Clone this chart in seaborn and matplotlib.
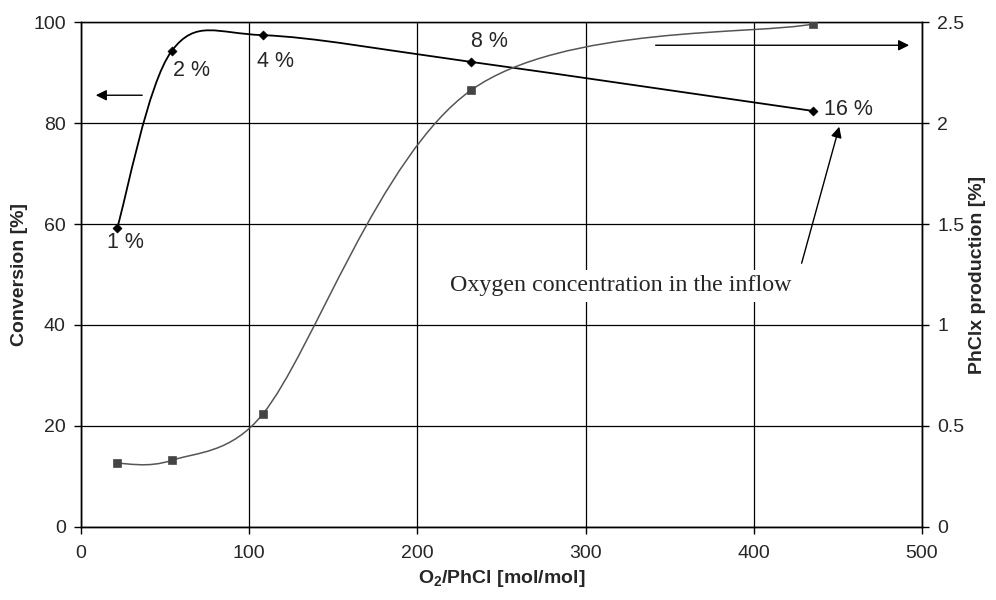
import numpy as np
import matplotlib
matplotlib.use("Agg")
import matplotlib.pyplot as plt
from matplotlib.path import Path
from matplotlib.patches import PathPatch
import seaborn as sns
import pandas as pd

# values
o2_ratio = [21.5, 54, 108, 232, 435]
conversion = [59.2, 94.3, 97.4, 92.1, 82.4]
phclx = [0.315, 0.33, 0.558, 2.163, 2.49]
inflow_labels = ["1 %", "2 %", "4 %", "8 %", "16 %"]
left_ticks = [0, 20, 40, 60, 80, 100]
right_ticks = [0, 0.5, 1, 1.5, 2, 2.5]
right_tick_labels = ["0", "0.5", "1", "1.5", "2", "2.5"]
x_ticks = [0, 100, 200, 300, 400, 500]

# label offsets in pixels (style)
label_offsets = [(8, -14), (20, -20), (13, -26), (18, 20), (36, 1)]

sns.set_style("white")
plt.rcParams["font.family"] = ["Liberation Sans", "DejaVu Sans"]
plt.rcParams["mathtext.fontset"] = "custom"
plt.rcParams["mathtext.rm"] = "Liberation Sans"
plt.rcParams["mathtext.bf"] = "Liberation Sans:bold"

df = pd.DataFrame({"o2": o2_ratio, "conv": conversion, "phclx": phclx})


def smooth_path(a, xs, ys):
    # Excel-like smoothed line: Bezier through the points, built in screen space,
    # control arms capped at half the segment length
    pts = a.transData.transform(np.column_stack([xs, ys]).astype(float))
    ext = np.vstack([pts[0], pts, pts[-1]])
    verts = [pts[0]]
    codes = [Path.MOVETO]
    for i in range(1, len(ext) - 2):
        p0, p1, p2, p3 = ext[i - 1], ext[i], ext[i + 1], ext[i + 2]
        d12 = np.hypot(*(p2 - p1))
        d02 = np.hypot(*(p2 - p0))
        d13 = np.hypot(*(p3 - p1))
        f0 = min(1 / 6, d12 / (2 * d02)) if d02 > 0 else 1 / 6
        f3 = min(1 / 6, d12 / (2 * d13)) if d13 > 0 else 1 / 6
        verts += [p1 + (p2 - p0) * f0, p2 - (p3 - p1) * f3, p2]
        codes += [Path.CURVE4] * 3
    verts = a.transData.inverted().transform(np.array(verts))
    return Path(verts, codes)


fig = plt.figure(figsize=(9.96, 6), dpi=100)
ax = fig.add_axes([0.0813, 0.1217, 0.8444, 0.8416])
ax2 = ax.twinx()

ax.set_xlim(0, 500)
ax.set_ylim(0, 100)
ax2.set_ylim(0, 2.5)

ax.set_xticks(x_ticks)
ax.set_yticks(left_ticks)
ax2.set_yticks(right_ticks)
ax2.set_yticklabels(right_tick_labels)

ax.grid(True, color="black", linewidth=0.9)
ax.set_axisbelow(True)
for a in (ax, ax2):
    for s in a.spines.values():
        s.set_color("black")
        s.set_linewidth(1.0)
    a.tick_params(labelsize=14, length=5, width=1, color="black", pad=6)
ax.tick_params(axis="x", bottom=True, pad=8)
ax.tick_params(axis="y", left=True)
ax2.tick_params(axis="y", right=True)
ax.spines["top"].set_color("#777777")

# conversion (left axis)
ax.add_patch(PathPatch(smooth_path(ax, df.o2, df.conv), facecolor="none",
                       edgecolor="black", linewidth=1.3, zorder=3))
sns.scatterplot(data=df, x="o2", y="conv", ax=ax, marker="D", s=22,
                color="black", edgecolor="black", zorder=4, legend=False)

# PhClx production (right axis)
ax2.add_patch(PathPatch(smooth_path(ax2, df.o2, df.phclx), facecolor="none",
                        edgecolor="#555555", linewidth=1.1, zorder=3))
sns.scatterplot(data=df, x="o2", y="phclx", ax=ax2, marker="s", s=36,
                color="#444444", edgecolor="#444444", zorder=4, legend=False)

for lab, xv, yv, off in zip(inflow_labels, o2_ratio, conversion, label_offsets):
    ax.annotate(lab, (xv, yv), xytext=off, textcoords="offset pixels",
                ha="center", va="center", fontsize=15.5)

arrow = dict(arrowstyle="-|>", color="black", lw=1.0, mutation_scale=16)
ax.annotate("", xy=(0.0143, 0.855), xytext=(0.0761, 0.855),
            xycoords="axes fraction", arrowprops=arrow)
ax.annotate("", xy=(0.988, 0.954), xytext=(0.680, 0.954),
            xycoords="axes fraction", arrowprops=arrow)
ax.annotate("", xy=(0.9025, 0.798), xytext=(0.856, 0.517),
            xycoords="axes fraction", arrowprops=arrow)
ax.text(0.642, 0.478, "Oxygen concentration in the inflow", transform=ax.transAxes,
        ha="center", va="center", fontsize=17.3, family=["Liberation Serif"],
        bbox=dict(facecolor="white", edgecolor="none", pad=4), zorder=5)

ax.set_xlabel(r"O$_\mathbf{2}$/PhCl [mol/mol]", fontsize=14, fontweight="bold", labelpad=4)
ax.set_ylabel("Conversion [%]", fontsize=14, fontweight="bold", labelpad=4)
ax2.set_ylabel("PhClx production [%]", fontsize=14, fontweight="bold", labelpad=3)

fig.savefig("out.png", dpi=100)
